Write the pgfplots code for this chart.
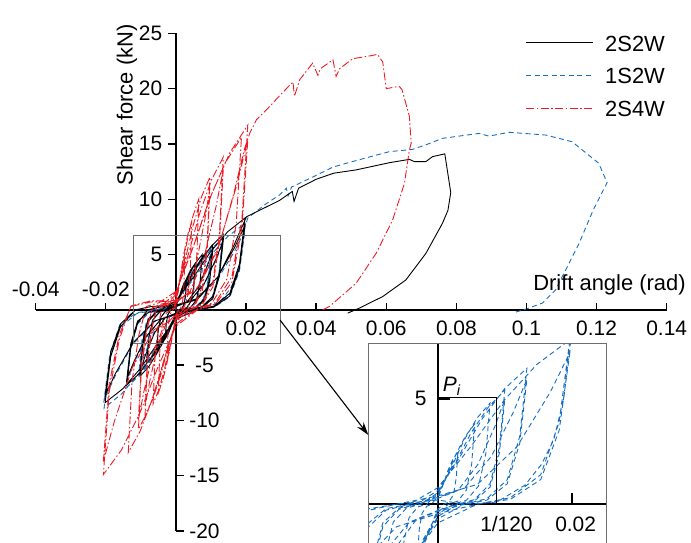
\documentclass[border=0pt]{standalone}
\usepackage{fontspec}
\setmainfont{Liberation Sans}
\usepackage{pgfplots}
\pgfplotsset{compat=1.18}
\usepackage{pgfplotstable}
\usetikzlibrary{arrows.meta}
\definecolor{cblue}{RGB}{20,110,195}
\definecolor{myred}{RGB}{237,28,36}
\definecolor{bxgray}{RGB}{110,110,110}
\newcommand{\tfont}{\fontsize{21}{25}\selectfont}
\newcommand{\lfont}{\fontsize{22}{26}\selectfont}
\tikzset{
 kline/.style={black, line width=0.9bp},
 bline/.style={cblue, line width=0.9bp, dash pattern=on 5bp off 3.5bp},
 rline/.style={myred, line width=0.9bp, dash pattern=on 8bp off 2.5bp on 1.5bp off 2.5bp},
}

\pgfplotstableread{
x y
0 0
0 0.28
0.00075 0.98
0.0015 1.76
0.00225 2.38
0.003 2.8
0.00276 1.4
0.00234 0.5
0.00165 0.11
0.0009 0
0 -0.26
-0.00075 -0.91
-0.0015 -1.64
-0.00225 -2.21
-0.003 -2.6
-0.00276 -1.3
-0.00234 -0.47
-0.00165 -0.1
-0.0009 0
0 0.42
0.00138 1.47
0.00275 2.65
0.00413 3.57
0.0055 4.2
0.00506 2.1
0.00429 0.76
0.00303 0.17
0.00165 0
0 -0.38
-0.00138 -1.33
-0.00275 -2.39
-0.00413 -3.23
-0.0055 -3.8
-0.00506 -1.9
-0.00429 -0.68
-0.00303 -0.15
-0.00165 0
0 0.5
0.00188 1.75
0.00375 3.15
0.00563 4.25
0.0075 5.0
0.0069 2.5
0.00585 0.9
0.00413 0.2
0.00225 0
0 -0.48
-0.00208 -1.68
-0.00415 -3.02
-0.00623 -4.08
-0.0083 -4.8
-0.00764 -2.4
-0.00647 -0.86
-0.00457 -0.19
-0.00249 0
0 0.58
0.00263 2.03
0.00525 3.65
0.00788 4.93
0.0105 5.8
0.00966 2.9
0.00819 1.04
0.00578 0.23
0.00315 0
0 -0.6
-0.00255 -2.1
-0.0051 -3.78
-0.00765 -5.1
-0.0102 -6.0
-0.00938 -3.0
-0.00796 -1.08
-0.00561 -0.24
-0.00306 0
0 0.29
0.00315 0.7
0.0063 2.03
0.00893 3.94
0.0105 5.34
0.00966 2.61
0.00819 0.87
0.00578 0.17
0.00315 0
0 -0.3
-0.00306 -0.72
-0.00612 -2.1
-0.00867 -4.08
-0.0102 -5.52
-0.00938 -2.7
-0.00796 -0.9
-0.00561 -0.18
-0.00306 0
0 0.68
0.00338 2.38
0.00675 4.28
0.01013 5.78
0.0135 6.8
0.01242 3.4
0.01053 1.22
0.00743 0.27
0.00405 0
0 -0.68
-0.0035 -2.38
-0.007 -4.28
-0.0105 -5.78
-0.014 -6.8
-0.01288 -3.4
-0.01092 -1.22
-0.008 0
-0.0045 0.25
0 0.34
0.00405 0.82
0.0081 2.38
0.01148 4.62
0.0135 6.26
0.01242 3.06
0.01053 1.02
0.00743 0.2
0.00405 0
0 -0.34
-0.0042 -0.82
-0.0084 -2.38
-0.0119 -4.62
-0.014 -6.26
-0.01288 -3.06
-0.01092 -1.02
-0.0077 -0.2
-0.0042 0
0 0.83
0.00493 2.91
0.00985 5.23
0.01478 7.06
0.0197 8.3
0.01812 4.15
0.01537 1.49
0.01084 0.33
0.00591 0
0 -0.84
-0.00505 -2.94
-0.0101 -5.29
-0.01515 -7.14
-0.0202 -8.4
-0.01858 -4.2
-0.01576 -1.51
-0.0115 0
-0.007 0.3
0 0.42
0.00591 1.0
0.01182 2.91
0.01675 5.64
0.0197 7.64
0.01812 3.74
0.01537 1.25
0.01084 0.25
0.00591 0
0 -0.42
-0.00606 -1.01
-0.01212 -2.94
-0.01717 -5.71
-0.0202 -7.73
-0.01858 -3.78
-0.01576 -1.26
-0.0115 0
-0.007 0.3
0 0.4
0.006 0.9
0.012 3.0
0.0165 5.8
0.0201 8.4
0.0258 9.3
0.0296 9.9
0.0332 10.7
0.0337 9.8
0.035 11.0
0.04 11.8
0.045 12.35
0.0514 12.65
0.0609 13.3
0.0666 13.6
0.068 13.4
0.0713 13.4
0.0732 13.85
0.0767 14.1
0.0784 10.6
0.0776 9.0
0.076 7.8
0.0713 5.1
0.0656 2.7
0.059 1.2
0.0523 0.15
0.049 -0.3
}\tabK

\pgfplotstableread{
x y
0 0
0 0.25
0.00075 0.88
0.0015 1.58
0.00225 2.13
0.003 2.5
0.00276 1.25
0.00234 0.45
0.00165 0.1
0.0009 0
0 -0.24
-0.00075 -0.84
-0.0015 -1.51
-0.00225 -2.04
-0.003 -2.4
-0.00276 -1.2
-0.00234 -0.43
-0.00165 -0.1
-0.0009 0
0 0.38
0.00138 1.33
0.00275 2.39
0.00413 3.23
0.0055 3.8
0.00506 1.9
0.00429 0.68
0.00303 0.15
0.00165 0
0 -0.36
-0.00138 -1.26
-0.00275 -2.27
-0.00413 -3.06
-0.0055 -3.6
-0.00506 -1.8
-0.00429 -0.65
-0.00303 -0.14
-0.00165 0
0 0.48
0.00195 1.68
0.0039 3.02
0.00585 4.08
0.0078 4.8
0.00718 2.4
0.00608 0.86
0.00429 0.19
0.00234 0
0 -0.47
-0.00213 -1.65
-0.00425 -2.96
-0.00638 -4.0
-0.0085 -4.7
-0.00782 -2.35
-0.00663 -0.85
-0.00468 -0.19
-0.00255 0
0 0.54
0.0025 1.89
0.005 3.4
0.0075 4.59
0.01 5.4
0.0092 2.7
0.0078 0.97
0.0055 0.22
0.003 0
0 -0.59
-0.00263 -2.07
-0.00525 -3.72
-0.00788 -5.02
-0.0105 -5.9
-0.00966 -2.95
-0.00819 -1.06
-0.00578 -0.24
-0.00315 0
0 0.27
0.003 0.65
0.006 1.89
0.0085 3.67
0.01 4.97
0.0092 2.43
0.0078 0.81
0.0055 0.16
0.003 0
0 -0.3
-0.00315 -0.71
-0.0063 -2.07
-0.00893 -4.01
-0.0105 -5.43
-0.00966 -2.66
-0.00819 -0.89
-0.00578 -0.18
-0.00315 0
0 0.65
0.00333 2.26
0.00665 4.06
0.00998 5.48
0.0133 6.45
0.01224 3.23
0.01037 1.16
0.00732 0.26
0.00399 0
0 -0.7
-0.0035 -2.45
-0.007 -4.41
-0.0105 -5.95
-0.014 -7.0
-0.01288 -3.5
-0.01092 -1.26
-0.0077 -0.28
-0.0042 0
0 0.32
0.00399 0.77
0.00798 2.26
0.01131 4.39
0.0133 5.93
0.01224 2.9
0.01037 0.97
0.00732 0.19
0.00399 0
0 -0.35
-0.0042 -0.84
-0.0084 -2.45
-0.0119 -4.76
-0.014 -6.44
-0.01288 -3.15
-0.01092 -1.05
-0.0077 -0.21
-0.0042 0
0 0.78
0.00493 2.73
0.00985 4.91
0.01478 6.63
0.0197 7.8
0.01812 3.9
0.01537 1.4
0.01084 0.31
0.00591 0
0 -0.89
-0.00513 -3.12
-0.01025 -5.61
-0.01538 -7.57
-0.0205 -8.9
-0.01886 -4.45
-0.01599 -1.6
-0.01128 -0.36
-0.00615 0
0 0.39
0.00591 0.94
0.01182 2.73
0.01675 5.3
0.0197 7.18
0.01812 3.51
0.01537 1.17
0.01084 0.23
0.00591 0
0 -0.45
-0.00615 -1.07
-0.0123 -3.12
-0.01743 -6.05
-0.0205 -8.19
-0.01886 -4.0
-0.01599 -1.34
-0.01128 -0.27
-0.00615 0
0 0.2
0.004 0.0
0.0088 0.1
0.013 0.9
0.0155 1.9
0.0173 3.05
0.0188 5.0
0.0197 7.5
0.0205 8.3
0.0258 9.6
0.0296 10.4
0.0315 11.0
0.032 10.3
0.033 11.1
0.039 12.0
0.0448 12.9
0.0486 13.25
0.055 13.8
0.0609 14.3
0.0675 14.5
0.072 15.0
0.076 15.5
0.0865 15.95
0.0893 15.7
0.095 16.05
0.1055 15.8
0.113 15.2
0.1206 13.25
0.123 11.5
0.119 9.0
0.115 6.0
0.1083 1.8
0.1045 0.6
0.0998 0.06
0.097 -0.2
}\tabB

\pgfplotstableread{
x y
0 0
0 0.45
0.00063 1.58
0.00125 2.84
0.00188 3.83
0.0025 4.5
0.0023 2.25
0.00195 0.81
0.00138 0.18
0.00075 0
0 -0.45
-0.00063 -1.58
-0.00125 -2.84
-0.00188 -3.83
-0.0025 -4.5
-0.0023 -2.25
-0.00195 -0.81
-0.00138 -0.18
-0.00075 0
0 0.8
0.00113 2.8
0.00225 5.04
0.00338 6.8
0.0045 8.0
0.00414 4.0
0.00351 1.44
0.00248 0.32
0.00135 0
0 -0.75
-0.00125 -2.63
-0.0025 -4.73
-0.00375 -6.38
-0.005 -7.5
-0.0046 -3.75
-0.0039 -1.35
-0.00275 -0.3
-0.0015 0
0 1.0
0.00163 3.5
0.00325 6.3
0.00488 8.5
0.0065 10.0
0.00598 5.0
0.00507 1.8
0.00358 0.4
0.00195 0
0 -0.85
-0.00163 -2.98
-0.00325 -5.36
-0.00488 -7.23
-0.0065 -8.5
-0.00598 -4.25
-0.00507 -1.53
-0.00403 0.15
-0.00228 0.4
0 1.2
0.00243 4.2
0.00485 7.56
0.00728 10.2
0.0097 12.0
0.00892 6.0
0.00757 2.16
0.00534 0.48
0.00291 0
0 -0.95
-0.0022 -3.33
-0.0044 -5.99
-0.0066 -8.08
-0.0088 -9.5
-0.0081 -4.75
-0.00686 -1.71
-0.00546 0.2
-0.00308 0.5
0 0.6
0.00291 1.44
0.00582 4.2
0.00825 8.16
0.0097 11.04
0.00892 5.4
0.00757 1.8
0.00534 0.36
0.00291 0
0 -0.48
-0.00264 -1.14
-0.00528 -3.33
-0.00748 -6.46
-0.0088 -8.74
-0.0081 -4.28
-0.00686 -1.43
-0.00546 0.15
-0.00308 0.4
0 1.38
0.00338 4.83
0.00675 8.69
0.01013 11.73
0.0135 13.8
0.01242 6.9
0.01053 2.48
0.00743 0.55
0.00405 0
0 -1.08
-0.00268 -3.78
-0.00535 -6.8
-0.00803 -9.18
-0.0107 -10.8
-0.00984 -5.4
-0.00835 -1.94
-0.00663 0.25
-0.00375 0.55
0 0.69
0.00405 1.66
0.0081 4.83
0.01148 9.38
0.0135 12.7
0.01242 6.21
0.01053 2.07
0.00743 0.41
0.00405 0
0 -0.54
-0.00321 -1.3
-0.00642 -3.78
-0.0091 -7.34
-0.0107 -9.94
-0.00984 -4.86
-0.00835 -1.62
-0.00663 0.2
-0.00375 0.45
0 1.56
0.00468 5.46
0.00935 9.83
0.01403 13.26
0.0187 15.6
0.0172 7.8
0.01459 2.81
0.01029 0.62
0.00561 0
0 -1.29
-0.0034 -4.52
-0.0068 -8.13
-0.0102 -10.97
-0.0136 -12.9
-0.01251 -6.45
-0.01061 -2.32
-0.00843 0.3
-0.00476 0.65
0 1.67
0.00513 5.85
0.01025 10.52
0.01538 14.2
0.0205 16.7
0.01886 8.35
0.01599 3.01
0.01128 0.67
0.00615 0
0 -1.49
-0.00518 -5.22
-0.01035 -9.39
-0.01553 -12.67
-0.0207 -14.9
-0.01904 -7.45
-0.01615 -2.68
-0.01283 0.35
-0.00725 0.8
0 0.84
0.00615 2.0
0.0123 5.85
0.01743 11.36
0.0205 15.36
0.01886 7.52
0.01599 2.51
0.01128 0.5
0.00615 0
0 -0.75
-0.00621 -1.79
-0.01242 -5.22
-0.0176 -10.13
-0.0207 -13.71
-0.01904 -6.71
-0.01615 -2.24
-0.01283 0.3
-0.00725 0.7
0 0.8
0.006 1.8
0.012 5.5
0.0165 10.5
0.0195 14.5
0.0211 16.0
0.023 17.2
0.0258 18.07
0.03 19.5
0.0334 20.6
0.0338 19.3
0.0353 20.8
0.039 22.3
0.0405 21.2
0.0412 21.8
0.0448 22.6
0.0457 21.1
0.0467 21.8
0.0504 22.7
0.0561 23.0
0.0575 23.1
0.059 22.4
0.06 20.0
0.0637 20.2
0.0645 19.9
0.0666 17.5
0.0671 15.05
0.0666 14.45
0.0652 11.45
0.0618 8.1
0.0571 5.1
0.0514 2.4
0.0438 0.3
0.0419 0
}\tabR

\begin{document}
\begin{tikzpicture}
\begin{axis}[
  at={(0,0)}, anchor=south west, scale only axis,
  width=631bp, height=497.7bp,
  xmin=-0.04, xmax=0.14, ymin=-20, ymax=25,
  axis lines=middle, axis line style={-, line width=1.5bp},
  xtick=\empty, ytick=\empty,
  clip=false,
]
\addplot[bline] table {\tabB};
\addplot[kline] table {\tabK};
\addplot[rline] table {\tabR};

\pgfplotsinvokeforeach{-0.04,-0.02,0.02,0.04,0.06,0.08,0.1,0.12,0.14}{
  \draw[line width=1.3bp] (axis cs:#1,0) -- ([yshift=7bp]axis cs:#1,0);}
\pgfplotsinvokeforeach{0.02,0.04,0.06,0.08,0.1,0.12,0.14}{
  \node[anchor=north, inner sep=0pt, font=\tfont] at ([yshift=-11bp]axis cs:#1,0) {#1};}
\pgfplotsinvokeforeach{-0.04,-0.02}{
  \node[anchor=base, inner sep=0pt, font=\tfont] at ([yshift=13bp]axis cs:#1,0) {#1};}
\pgfplotsinvokeforeach{5,10,15,20,25}{
  \draw[line width=1.3bp] (axis cs:0,#1) -- ([xshift=-8bp]axis cs:0,#1);
  \node[anchor=east, inner sep=0pt, font=\tfont] at ([xshift=-13.5bp]axis cs:0,#1) {#1};}
\pgfplotsinvokeforeach{-5,-10,-15,-20}{
  \draw[line width=1.3bp] (axis cs:0,#1) -- ([xshift=8bp]axis cs:0,#1);
  \node[anchor=center, inner sep=0pt, font=\tfont] at ([xshift=28.5bp]axis cs:0,#1) {#1};}
\node[rotate=90, font=\lfont, inner sep=0pt] at (axis cs:-0.01398,18.52) {Shear force (kN)};
\node[anchor=base west, font=\lfont, inner sep=0pt] at (axis cs:0.1019,1.79) {Drift angle (rad)};
\end{axis}

\begin{axis}[
  at={(332.6bp,-36bp)}, anchor=south west, scale only axis,
  width=237.7bp, height=223bp,
  xmin=-0.01036, xmax=0.0251, ymin=-2.98, ymax=7.6,
  axis lines=middle, axis line style={-, line width=1.6bp},
  xtick=\empty, ytick=\empty,
  axis background/.style={fill=white},
]
\addplot[bline] table {\tabB};
\addplot[black, line width=1.1bp] coordinates {(0,5.06) (0.0088,5.06) (0.0088,0)};
\draw[line width=2.5bp] (axis cs:0,5) -- ([xshift=12bp]axis cs:0,5);
\draw[line width=1.6bp] (axis cs:0.02,0) -- ([yshift=11.5bp]axis cs:0.02,0);
\node[anchor=east, inner sep=0pt, font=\tfont] at ([xshift=-11bp]axis cs:0,5) {5};
\node[anchor=base west, inner sep=0pt, font=\tfont] at (axis cs:0.00075,5.34) {\itshape P\textsubscript{i}};
\node[anchor=base west, inner sep=0pt, font=\tfont] at (axis cs:0.00631,-1.30) {1/120};
\node[anchor=base west, inner sep=0pt, font=\tfont] at (axis cs:0.0175,-1.30) {0.02};
\end{axis}

% legend
\draw[kline] (490.3bp,488.3bp) -- (557.3bp,488.3bp);
\draw[bline] (490.3bp,455.5bp) -- (557.3bp,455.5bp);
\draw[rline] (490.3bp,422.7bp) -- (557.3bp,422.7bp);
\node[anchor=base west, inner sep=0pt, font=\lfont] at (569.3bp,479.8bp) {2S2W};
\node[anchor=base west, inner sep=0pt, font=\lfont] at (569.3bp,447bp) {1S2W};
\node[anchor=base west, inner sep=0pt, font=\lfont] at (569.3bp,414.2bp) {2S4W};

\draw[bxgray, line width=1bp] (97.3bp,187bp) rectangle (244.3bp,295bp);
\draw[bxgray, line width=1bp] (332.6bp,-36bp) rectangle (570.3bp,187bp);
\draw[line width=1.1bp, -{Stealth[length=13bp,width=8bp]}] (244.3bp,211bp) -- (332.6bp,96bp);

\pgfresetboundingbox
\useasboundingbox (-35.7bp,-12bp) rectangle (655.3bp,531bp);
\end{tikzpicture}
\end{document}
